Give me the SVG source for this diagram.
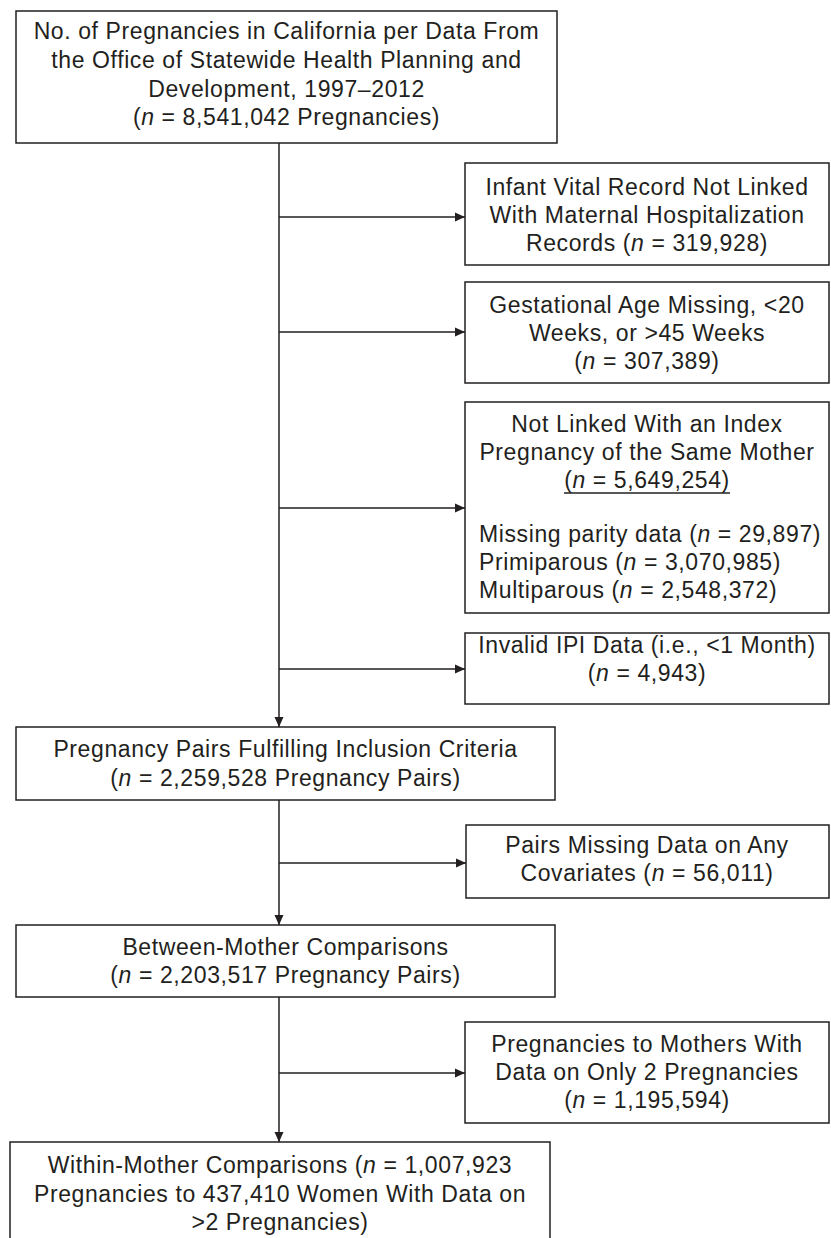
<svg xmlns="http://www.w3.org/2000/svg" width="831" height="1238" viewBox="0 0 831 1238">
<defs>
<marker id="ah" markerWidth="10" markerHeight="10" refX="10" refY="5" orient="auto" markerUnits="userSpaceOnUse">
<path d="M0,0.5 L10,5 L0,9.5 Z" fill="#231f20"/>
</marker>
<style>
.box{fill:#fff;stroke:#231f20;stroke-width:1.5}
.t{font-family:"Liberation Sans",Arial,sans-serif;font-size:23px;letter-spacing:0.6px;fill:#231f20}
.c{text-anchor:middle}
.i{font-style:italic}
.ln{stroke:#231f20;stroke-width:1.5;fill:none}
</style>
</defs>
<rect width="831" height="1238" fill="#fff"/>
<g id="connectors">
<path class="ln" d="M279,143 V727" marker-end="url(#ah)"/>
<path class="ln" d="M279,217 H465" marker-end="url(#ah)"/>
<path class="ln" d="M279,332 H465" marker-end="url(#ah)"/>
<path class="ln" d="M279,508 H465" marker-end="url(#ah)"/>
<path class="ln" d="M279,669 H465" marker-end="url(#ah)"/>
<path class="ln" d="M279,800 V925" marker-end="url(#ah)"/>
<path class="ln" d="M279,863 H466" marker-end="url(#ah)"/>
<path class="ln" d="M279,997 V1142" marker-end="url(#ah)"/>
<path class="ln" d="M279,1073 H465" marker-end="url(#ah)"/>
</g>
<g id="n1">
<rect class="box" x="16" y="11" width="541" height="132"/>
<text class="t c" x="286.5" y="39">No. of Pregnancies in California per Data From</text>
<text class="t c" x="286.5" y="68">the Office of Statewide Health Planning and</text>
<text class="t c" x="286.5" y="97">Development, 1997–2012</text>
<text class="t c" x="286.5" y="125">(<tspan class="i">n</tspan> = 8,541,042 Pregnancies)</text>
</g>
<g id="n2">
<rect class="box" x="465" y="163" width="364" height="102"/>
<text class="t c" x="647" y="195">Infant Vital Record Not Linked</text>
<text class="t c" x="647" y="223">With Maternal Hospitalization</text>
<text class="t c" x="647" y="251">Records (<tspan class="i">n</tspan> = 319,928)</text>
</g>
<g id="n3">
<rect class="box" x="465" y="282" width="364" height="101"/>
<text class="t c" x="647" y="313">Gestational Age Missing, &lt;20</text>
<text class="t c" x="647" y="341">Weeks, or &gt;45 Weeks</text>
<text class="t c" x="647" y="369">(<tspan class="i">n</tspan> = 307,389)</text>
</g>
<g id="n4">
<rect class="box" x="465" y="402" width="364" height="211"/>
<text class="t c" x="647" y="432">Not Linked With an Index</text>
<text class="t c" x="647" y="460">Pregnancy of the Same Mother</text>
<text class="t c" x="647" y="488">(<tspan class="i">n</tspan> = 5,649,254)</text>
<line class="ln" x1="564" y1="493" x2="730" y2="493"/>
<text class="t" x="479" y="542">Missing parity data (<tspan class="i">n</tspan> = 29,897)</text>
<text class="t" x="479" y="570">Primiparous (<tspan class="i">n</tspan> = 3,070,985)</text>
<text class="t" x="479" y="598">Multiparous (<tspan class="i">n</tspan> = 2,548,372)</text>
</g>
<g id="n5">
<rect class="box" x="465" y="633" width="364" height="71"/>
<text class="t c" x="647" y="653">Invalid IPI Data (i.e., &lt;1 Month)</text>
<text class="t c" x="647" y="681">(<tspan class="i">n</tspan> = 4,943)</text>
</g>
<g id="n6">
<rect class="box" x="16" y="727" width="539" height="73"/>
<text class="t c" x="285.5" y="757">Pregnancy Pairs Fulfilling Inclusion Criteria</text>
<text class="t c" x="285.5" y="786">(<tspan class="i">n</tspan> = 2,259,528 Pregnancy Pairs)</text>
</g>
<g id="n7">
<rect class="box" x="466" y="825" width="363" height="73"/>
<text class="t c" x="647" y="853">Pairs Missing Data on Any</text>
<text class="t c" x="647" y="881">Covariates (<tspan class="i">n</tspan> = 56,011)</text>
</g>
<g id="n8">
<rect class="box" x="16" y="925" width="539" height="72"/>
<text class="t c" x="285.5" y="955">Between-Mother Comparisons</text>
<text class="t c" x="285.5" y="983">(<tspan class="i">n</tspan> = 2,203,517 Pregnancy Pairs)</text>
</g>
<g id="n9">
<rect class="box" x="465" y="1022" width="364" height="101"/>
<text class="t c" x="647" y="1052">Pregnancies to Mothers With</text>
<text class="t c" x="647" y="1080">Data on Only 2 Pregnancies</text>
<text class="t c" x="647" y="1108">(<tspan class="i">n</tspan> = 1,195,594)</text>
</g>
<g id="n10">
<rect class="box" x="10" y="1142" width="540" height="110"/>
<text class="t c" x="280" y="1173">Within-Mother Comparisons (<tspan class="i">n</tspan> = 1,007,923</text>
<text class="t c" x="280" y="1202">Pregnancies to 437,410 Women With Data on</text>
<text class="t c" x="280" y="1230">&gt;2 Pregnancies)</text>
</g>
</svg>
